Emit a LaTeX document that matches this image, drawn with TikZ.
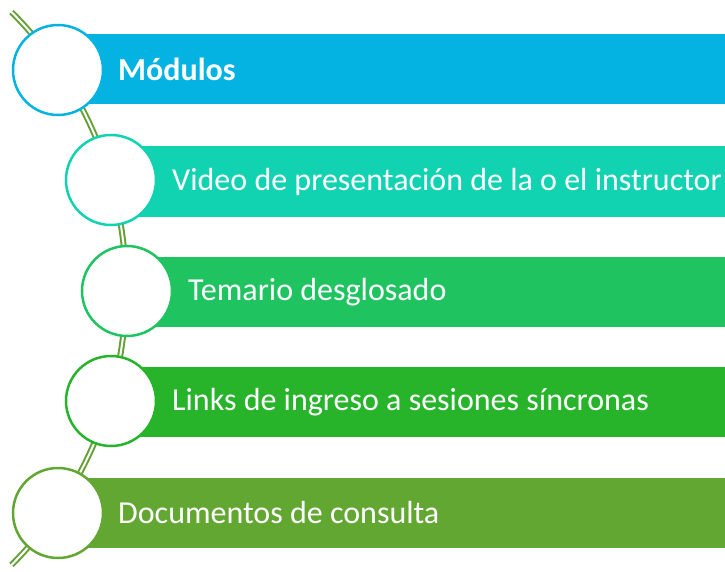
\documentclass[tikz,border=0pt]{standalone}
\usepackage{fontspec}
\setmainfont{Carlito}
\usetikzlibrary{calc}
\definecolor{cA}{HTML}{05B3E2}
\definecolor{cB}{HTML}{12D3B1}
\definecolor{cC}{HTML}{1FC461}
\definecolor{cD}{HTML}{27B42B}
\definecolor{cE}{HTML}{63A733}
\definecolor{arcc}{HTML}{64A034}
\begin{document}
\begin{tikzpicture}[x=1pt,y=1pt,
  bar/.style={anchor=west,minimum height=70pt,inner sep=0pt,outer sep=0pt,draw=none},
  disc/.style={circle,fill=white,draw=#1,line width=2.5pt,minimum size=90pt,inner sep=0pt},
  lbl/.style={anchor=west,text=white,font=\fontsize{32}{34}\selectfont,inner sep=0pt}]
\useasboundingbox (0,0) rectangle (725,-572);
\coordinate (ac) at (-265,-288.5);
\coordinate (atop) at ($(ac)+(45:391pt)$);
% bars
\node[bar,fill=cA,minimum width=667pt] (r1) at (58,-69.5) {};
\node[bar,fill=cB,minimum width=614pt] (r2) at (111,-181.5) {};
\node[bar,fill=cC,minimum width=598pt] (r3) at (127,-292) {};
\node[bar,fill=cD,minimum width=614pt] (r4) at (111,-402) {};
\node[bar,fill=cE,minimum width=667pt] (r5) at (58,-512.5) {};
% arc
\draw[arcc,line width=2pt,double=white,double distance=2pt]
  (atop) arc[start angle=45,end angle=-45,radius=391pt] coordinate (abot);
% circles
\node[disc=cA] (c1) at (58,-70) {};
\node[disc=cB] (c2) at (111,-180) {};
\node[disc=cC] (c3) at (127,-291) {};
\node[disc=cD] (c4) at (111,-401) {};
\node[disc=cE] (c5) at (58,-513) {};
% labels
\node[lbl,font=\fontsize{32}{34}\selectfont\bfseries] (t1) at (118,-69.5) {Módulos};
\node[lbl] (t2) at (172,-181.5) {Video de presentación de la o el instructor};
\node[lbl] (t3) at (188,-292) {Temario desglosado};
\node[lbl] (t4) at (172,-402) {Links de ingreso a sesiones síncronas};
\node[lbl] (t5) at (118,-512.5) {Documentos de consulta};
\end{tikzpicture}
\end{document}
